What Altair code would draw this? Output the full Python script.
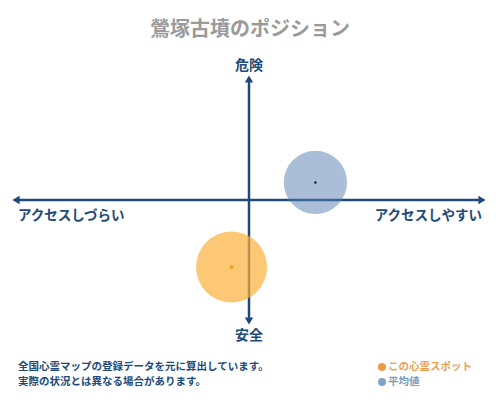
import altair as alt
import pandas as pd

# ---- data ----
series = ["この心霊スポット", "平均値"]
pos_x = [-0.075, 0.285]
pos_y = [-0.554, 0.145]
title_text = "鶯塚古墳のポジション"
axis_labels = ["危険", "安全", "アクセスしづらい", "アクセスしやすい"]
notes = ["全国心霊マップの登録データを元に算出しています。", "実際の状況とは異なる場合があります。"]

NAVY = "#1d4a7a"
FONT = "Noto Sans CJK JP"

xs = alt.Scale(domain=[-1, 1], range=[8, 474])
ys = alt.Scale(domain=[-1, 1], range=[313, 71])

pts = pd.DataFrame({"series": series, "x": pos_x, "y": pos_y})

base = alt.Chart(pts)

# axis lines
hline = alt.Chart(pd.DataFrame({"x": [-1], "x2": [1], "y": [0]})).mark_rule(
    color=NAVY, strokeWidth=2.5
).encode(
    x=alt.X("x:Q", scale=xs, axis=None), x2="x2:Q", y=alt.Y("y:Q", scale=ys, axis=None)
)
vline = alt.Chart(pd.DataFrame({"y": [-1], "y2": [1], "x": [0]})).mark_rule(
    color=NAVY, strokeWidth=2.5
).encode(
    y=alt.Y("y:Q", scale=ys, axis=None), y2="y2:Q", x=alt.X("x:Q", scale=xs, axis=None)
)

arrows = alt.Chart(pd.DataFrame({
    "x": [-1, 1, 0, 0],
    "y": [0, 0, 1, -1],
    "shape": ["triangle-left", "triangle-right", "triangle-up", "triangle-down"],
})).mark_point(filled=True, color=NAVY, opacity=1, size=70).encode(
    x=alt.X("x:Q", scale=xs, axis=None),
    y=alt.Y("y:Q", scale=ys, axis=None),
    shape=alt.Shape("shape:N", scale=None, legend=None),
)

# axis end labels
lab_df = pd.DataFrame({
    "label": axis_labels,
    "x": [0, 0, -1, 1],
    "y": [1, -1, 0, 0],
})
top_lab = alt.Chart(lab_df.iloc[[0]]).mark_text(
    font=FONT, fontSize=14, fontWeight="bold", color=NAVY, dy=-13
).encode(x=alt.X("x:Q", scale=xs, axis=None), y=alt.Y("y:Q", scale=ys, axis=None), text="label:N")
bot_lab = alt.Chart(lab_df.iloc[[1]]).mark_text(
    font=FONT, fontSize=14, fontWeight="bold", color=NAVY, dy=15
).encode(x=alt.X("x:Q", scale=xs, axis=None), y=alt.Y("y:Q", scale=ys, axis=None), text="label:N")
left_lab = alt.Chart(lab_df.iloc[[2]]).mark_text(
    font=FONT, fontSize=13.5, fontWeight="bold", color=NAVY, align="left", dx=2, dy=16
).encode(x=alt.X("x:Q", scale=xs, axis=None), y=alt.Y("y:Q", scale=ys, axis=None), text="label:N")
right_lab = alt.Chart(lab_df.iloc[[3]]).mark_text(
    font=FONT, fontSize=13.5, fontWeight="bold", color=NAVY, align="right", dx=0, dy=16
).encode(x=alt.X("x:Q", scale=xs, axis=None), y=alt.Y("y:Q", scale=ys, axis=None), text="label:N")

# circles
circles = base.mark_circle(opacity=1).encode(
    x=alt.X("x:Q", scale=xs, axis=None),
    y=alt.Y("y:Q", scale=ys, axis=None),
    color=alt.Color("series:N", scale=alt.Scale(domain=series, range=["#fbb03b", "#557daf"]), legend=None),
    opacity=alt.Opacity("series:N", scale=alt.Scale(domain=series, range=[0.7, 0.5]), legend=None),
    size=alt.Size("series:N", scale=alt.Scale(domain=series, range=[5040, 4000]), legend=None),
)
centers = base.mark_point(filled=True, opacity=1).encode(
    x=alt.X("x:Q", scale=xs, axis=None),
    y=alt.Y("y:Q", scale=ys, axis=None),
    color=alt.Color("series:N", scale=alt.Scale(domain=series, range=["#f59e0b", "#1a1a2a"]), legend=None),
    shape=alt.Shape("series:N", scale=alt.Scale(domain=series, range=["diamond", "circle"]), legend=None),
    size=alt.Size("series:N", scale=alt.Scale(domain=series, range=[22, 6]), legend=None),
)

# title
title = alt.Chart(pd.DataFrame({"t": [title_text]})).mark_text(
    font=FONT, fontSize=20, fontWeight="bold", color="#9a9a9a"
).encode(x=alt.value(242), y=alt.value(22), text="t:N")

# notes
notes_df = pd.DataFrame({"t": notes, "i": [0, 1]})
notes_mark = alt.Chart(notes_df).mark_text(
    font=FONT, fontSize=10.5, fontWeight="bold", color=NAVY, align="left", baseline="middle"
).encode(
    x=alt.value(10),
    y=alt.Y("i:Q", scale=alt.Scale(domain=[0, 1], range=[359, 374]), axis=None),
    text="t:N",
)

# legend
leg_df = pd.DataFrame({"series": series, "i": [0, 1]})
leg_y = alt.Y("i:Q", scale=alt.Scale(domain=[0, 1], range=[359, 374]), axis=None)
leg_dots = alt.Chart(leg_df).mark_circle(opacity=1, size=64).encode(
    x=alt.value(374),
    y=leg_y,
    color=alt.Color("series:N", scale=alt.Scale(domain=series, range=["#ef9a45", "#7ea3c8"]), legend=None),
)
leg_text = alt.Chart(leg_df).mark_text(
    font=FONT, fontSize=10.5, fontWeight="bold", align="left", baseline="middle"
).encode(
    x=alt.value(380),
    y=leg_y,
    text="series:N",
    color=alt.Color("series:N", scale=alt.Scale(domain=series, range=["#e8a050", "#7a9cc0"]), legend=None),
)

chart = alt.layer(
    hline, vline, arrows, circles, centers,
    top_lab, bot_lab, left_lab, right_lab,
    title, notes_mark, leg_dots, leg_text,
).resolve_scale(
    color="independent", size="independent", shape="independent", opacity="independent", y="independent"
).properties(
    width=484, height=384, autosize=alt.AutoSizeParams(type="none"), padding=0,
    background="white",
).configure_view(stroke=None)

chart.save("out.html", embed_options={"renderer": "svg", "actions": False})
